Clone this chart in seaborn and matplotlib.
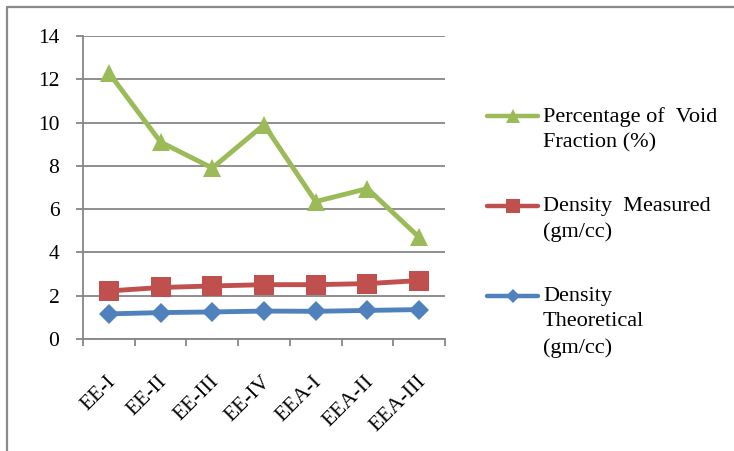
import matplotlib
matplotlib.use("Agg")
import matplotlib.pyplot as plt
from matplotlib.lines import Line2D
from matplotlib.transforms import ScaledTranslation
import seaborn as sns
import pandas as pd
import numpy as np

categories = ["EE-I", "EE-II", "EE-III", "EE-IV", "EEA-I", "EEA-II", "EEA-III"]
void_fraction = [12.3, 9.1, 7.9, 9.9, 6.35, 6.95, 4.7]
density_measured = [2.22, 2.38, 2.45, 2.51, 2.51, 2.56, 2.7]
density_theoretical = [1.16, 1.22, 1.25, 1.29, 1.28, 1.32, 1.36]

series_names = ["Percentage of  Void\nFraction (%)",
                "Density  Measured\n(gm/cc)",
                "Density\nTheoretical\n(gm/cc)"]
series_values = [void_fraction, density_measured, density_theoretical]
series_colors = ["#9BBB59", "#C0504D", "#4F81BD"]
series_markers = ["^", "s", "D"]
marker_sizes = [13.5, 14, 10.5]

sns.set_theme(style="white")
plt.rcParams["font.family"] = ["Liberation Serif", "DejaVu Serif"]

W, H = 734, 451
fig = plt.figure(figsize=(W / 100, H / 100), dpi=100)
ax = fig.add_axes([83 / W, 1 - 339 / H, (445 - 83) / W, (339 - 36) / H])

x = np.arange(len(categories))
for vals, col, mk, ms in zip(series_values, series_colors, series_markers, marker_sizes):
    df = pd.DataFrame({"x": x, "y": vals})
    sns.lineplot(data=df, x="x", y="y", ax=ax, color=col, marker=mk,
                 markersize=ms, linewidth=3.5, markeredgewidth=0, legend=False)

ax.set_xlim(-0.5, len(categories) - 0.5)
ax.set_ylim(0, 14)
ax.set_yticks(np.arange(0, 15, 2))
ax.set_xticks(x)
ax.set_xticklabels(categories, rotation=45, ha="right", rotation_mode="anchor")
ax.set_xticks(np.arange(-0.5, len(categories)), minor=True)
ax.set_xlabel("")
ax.set_ylabel("")

grid_col = "#868686"
ax.yaxis.grid(True, color=grid_col, linewidth=1.3)
ax.set_axisbelow(True)
for side in ["top", "right"]:
    ax.spines[side].set_visible(False)
for side in ["left", "bottom"]:
    ax.spines[side].set_color(grid_col)
    ax.spines[side].set_linewidth(1.3)

ax.tick_params(axis="y", which="major", left=True, length=5, width=1.3,
               color=grid_col, pad=12, labelsize=15.5, labelcolor="black")
ax.tick_params(axis="x", which="major", bottom=False, length=0, pad=24,
               labelsize=15.5, labelcolor="black")
ax.tick_params(axis="x", which="minor", bottom=True, length=5, width=1.3,
               color=grid_col)
shift = ScaledTranslation(-3 / 100, 0, fig.dpi_scale_trans)
for lbl in ax.get_xticklabels():
    lbl.set_transform(lbl.get_transform() + shift)

# Legend drawn beside the plot
legend_rows = [116, 206, 296]
for name, col, mk, ms, yrow in zip(series_names, series_colors, series_markers,
                                   marker_sizes, legend_rows):
    yf = 1 - yrow / H
    fig.add_artist(Line2D([487 / W, 538 / W], [yf, yf], color=col, linewidth=3.2,
                          transform=fig.transFigure))
    fig.add_artist(Line2D([512.5 / W], [yf], color=col, marker=mk,
                          markersize=ms * 0.72, markeredgewidth=0,
                          transform=fig.transFigure))
    fig.text(543 / W, 1 - (yrow - 9) / H, name, ha="left", va="top",
             fontsize=16, linespacing=1.45, color="black")

# Chart border (left and top edges)
fig.add_artist(Line2D([7 / W, 7 / W], [0, 1 - 7 / H], color="#8a8a8a",
                      linewidth=1.6, transform=fig.transFigure))
fig.add_artist(Line2D([7 / W, 1], [1 - 7 / H, 1 - 7 / H], color="#8a8a8a",
                      linewidth=1.6, transform=fig.transFigure))

fig.savefig("out.png", dpi=100)
